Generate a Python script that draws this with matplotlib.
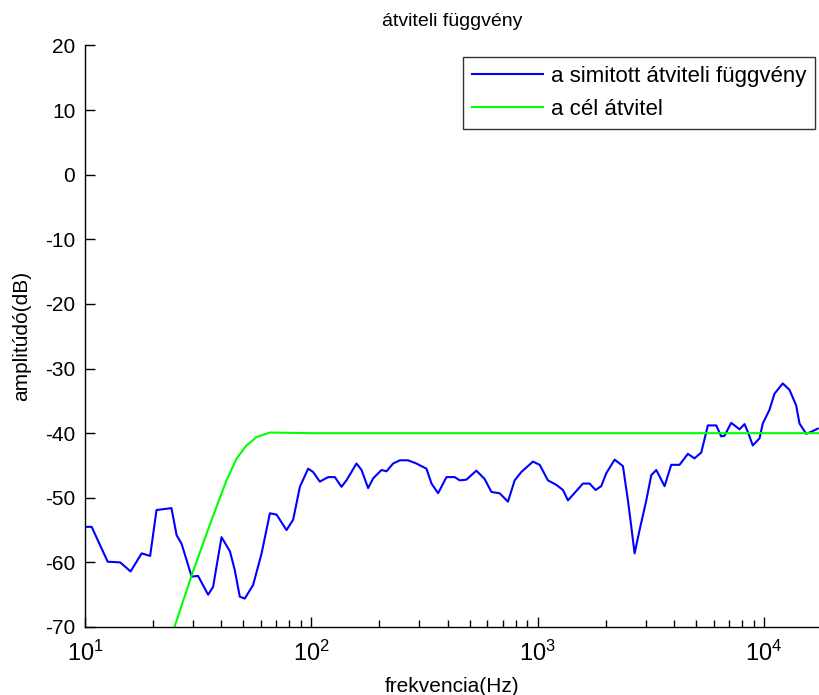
import matplotlib
matplotlib.use('Agg')
import matplotlib.pyplot as plt
import numpy as np

# simitott (smoothed) transfer function
freq_smooth = [10.0, 10.7, 12.6, 14.3, 15.9, 17.8, 19.4, 20.7, 24.1, 25.4,
               26.7, 29.6, 31.6, 35.0, 36.8, 40.1, 43.7, 45.9, 48.3, 50.8,
               55.3, 60.3, 65.6, 70.2, 77.7, 83.1, 89.0, 96.8, 101.8, 109.0,
               118.6, 127.0, 135.9, 143.0, 158.3, 166.7, 178.2, 187.5, 204.2, 214.8,
               229.8, 246.0, 267.5, 291.4, 322.6, 339.6, 363.1, 395.5, 430.1, 452.5,
               484.2, 535.9, 583.2, 624.6, 679.2, 739.2, 791.5, 847.3, 953, 1021,
               1110, 1209, 1294, 1361, 1585, 1697, 1803, 1910, 2010, 2188,
               2381, 2505, 2593, 2681, 2820, 3020, 3177, 3343, 3637, 3892,
               4236, 4610, 4932, 5281, 5650, 6152, 6471, 6692, 7163, 7797,
               8203, 8482, 8926, 9556, 9878, 10570, 11126, 12106, 12962, 13870,
               14350, 15360, 16150, 17280]
db_smooth = [-54.5, -54.5, -59.9, -60.0, -61.4, -58.6, -59.0, -51.9, -51.6, -55.8,
             -57.1, -62.2, -62.1, -65.0, -63.8, -56.1, -58.3, -61.2, -65.3, -65.6,
             -63.5, -58.6, -52.4, -52.6, -55.0, -53.4, -48.3, -45.5, -46.0, -47.5,
             -46.8, -46.8, -48.3, -47.3, -44.7, -45.7, -48.5, -47.0, -45.7, -45.9,
             -44.7, -44.2, -44.2, -44.7, -45.5, -47.8, -49.3, -46.8, -46.8, -47.3,
             -47.2, -45.8, -47.1, -49.1, -49.3, -50.6, -47.3, -46.0, -44.4, -44.9,
             -47.3, -48.0, -48.8, -50.4, -47.8, -47.8, -48.8, -48.2, -46.2, -44.1,
             -45.1, -50.4, -54.5, -58.6, -55.0, -50.4, -46.5, -45.7, -48.2, -44.9,
             -44.9, -43.2, -43.9, -43.0, -38.8, -38.8, -40.5, -40.4, -38.4, -39.4,
             -38.6, -39.8, -41.9, -40.8, -38.5, -36.4, -33.9, -32.3, -33.3, -35.7,
             -38.5, -40.1, -39.8, -39.3]

# target (cel) transfer
freq_target = [22.0, 24.9, 29.6, 34.5, 38.1, 42.2, 46.8, 51.7, 57.3, 65.6, 100, 1000, 18000]
db_target = [-75.0, -69.9, -62.0, -55.5, -51.4, -47.3, -43.9, -41.9, -40.6, -39.9, -40.0, -40.0, -40.0]

yticks = list(range(-70, 21, 10))

plt.rcParams['font.family'] = ['Liberation Sans', 'DejaVu Sans']
plt.rcParams['axes.unicode_minus'] = False
plt.rcParams['mathtext.fontset'] = 'custom'
plt.rcParams['mathtext.rm'] = 'Liberation Sans'
plt.rcParams['mathtext.it'] = 'Liberation Sans'

fig = plt.figure(figsize=(8.19, 6.95), dpi=100)
ax = fig.add_axes([85 / 819, 68 / 695, 734 / 819, 581.5 / 695])

ax.semilogx(freq_smooth, db_smooth, color=(0, 0, 1), lw=1.5, label='a simitott átviteli függvény')
ax.semilogx(freq_target, db_target, color=(0, 1, 0), lw=1.5, label='a cél átvitel')

ax.set_xlim(10, 17500)
ax.set_ylim(-70, 20)
ax.set_yticks(yticks)

ax.spines['top'].set_visible(False)
ax.spines['right'].set_visible(False)
for s in ('left', 'bottom'):
    ax.spines[s].set_linewidth(1.0)

ax.tick_params(which='major', direction='in', length=7, width=1, pad=7)
ax.tick_params(axis='y', which='major', labelsize=15)
ax.tick_params(axis='x', which='major', labelsize=17, pad=10)
ax.tick_params(which='minor', direction='in', length=5, width=1)

ax.set_title('átviteli függvény', fontsize=14, pad=14)
ax.set_xlabel('frekvencia(Hz)', fontsize=15, labelpad=8)
ax.set_ylabel('amplitúdó(dB)', fontsize=15, labelpad=10)

leg = ax.legend(loc='upper left', bbox_to_anchor=((463 - 85) / 734, (627 - 57) / 581.5),
                fontsize=16, frameon=True, fancybox=False, borderpad=0.4,
                handlelength=3.2, handletextpad=0.35, labelspacing=0.55,
                borderaxespad=0)
leg.get_frame().set_edgecolor('black')
leg.get_frame().set_linewidth(1.0)

fig.savefig('out.png', dpi=100)
